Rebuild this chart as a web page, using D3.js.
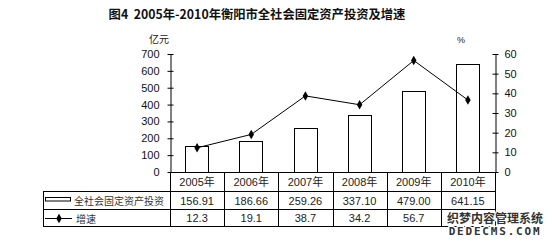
<!DOCTYPE html>
<html><head><meta charset="utf-8">
<script src="https://cdn.jsdelivr.net/npm/d3@7"></script>
<style>
body{margin:0;background:#fff;}
svg{display:block;font-family:"Liberation Sans",Arial,"Noto Sans CJK SC",sans-serif;}
</style></head><body>
<svg id="c" width="555" height="243"></svg>
<script>
const categories = ["2005年","2006年","2007年","2008年","2009年","2010年"];
const investment = [156.91,186.66,259.26,337.10,479.00,641.15];
const investmentLabels = ["156.91","186.66","259.26","337.10","479.00","641.15"];
const growth = [12.3,19.1,38.7,34.2,56.7,36.6];
// the 2010 growth cell is covered by the watermark in the reference
const growthLabels = ["12.3","19.1","38.7","34.2","56.7",""];
const leftTicks = [0,100,200,300,400,500,600,700];
const rightTicks = [0,10,20,30,40,50,60];
const seriesNames = ["全社会固定资产投资","增速"];
const title = "图4\u00a0\u00a02005年-2010年衡阳市全社会固定资产投资及增速";

const svg = d3.select("#c");
const L = 170, R = 495, T = 54, B = 172;
const x = d3.scaleBand().domain(categories).range([L, R]);
const yL = d3.scaleLinear().domain([0,700]).range([B, T]);
const yR = d3.scaleLinear().domain([0,60]).range([B, T]);

// title
svg.append("text").attr("x", 257).attr("y", 19).attr("text-anchor","middle")
  .attr("font-family","'Noto Sans CJK SC',sans-serif").attr("font-weight","bold")
  .attr("font-size", 12.3).attr("fill","#111").text(title);
svg.append("text").attr("x", 159).attr("y", 43).attr("text-anchor","middle")
  .attr("font-family","'Noto Sans CJK SC',sans-serif").attr("font-size", 10).attr("fill","#222").text("亿元");
svg.append("text").attr("x", 461).attr("y", 43).attr("text-anchor","middle")
  .attr("font-size", 9).attr("fill","#222").text("%");

// bars
svg.append("g").selectAll("rect").data(investment).join("rect")
  .attr("x", (d,i)=> Math.round(x(categories[i]) + x.bandwidth()*0.28)+0.5)
  .attr("width", Math.round(x.bandwidth()*0.42))
  .attr("y", d=> Math.round(yL(d))+0.5)
  .attr("height", d=> B - Math.round(yL(d)))
  .attr("fill","#fff").attr("stroke","#000").attr("stroke-width",1);

// axes
const axL = d3.axisLeft(yL).tickValues(leftTicks).tickSizeInner(3).tickSizeOuter(0).tickPadding(8);
const gL = svg.append("g").attr("transform",`translate(${L+0.5},0)`).call(axL);
gL.selectAll("line").attr("x2",-3).attr("x1",3);
const axR = d3.axisRight(yR).tickValues(rightTicks).tickSizeInner(3).tickSizeOuter(0).tickPadding(6);
const gR = svg.append("g").attr("transform",`translate(${R+0.5},0)`).call(axR);
gR.selectAll("line").attr("x1",-3).attr("x2",3);
[gL,gR].forEach(g=>{
  g.select(".domain").attr("stroke","#000");
  g.selectAll("line").attr("stroke","#000");
  g.selectAll("text").attr("font-size",11).attr("fill","#111")
   .attr("font-family","'Liberation Sans',Arial,sans-serif");
});

// line
const line = d3.line().x((d,i)=> x(categories[i]) + x.bandwidth()/2).y(d=> yR(d));
svg.append("path").datum(growth).attr("d", line).attr("fill","none").attr("stroke","#000").attr("stroke-width",1);
const diamond = d3.symbol().type(d3.symbolDiamond).size(26);
svg.append("g").selectAll("path").data(growth).join("path")
  .attr("transform",(d,i)=>`translate(${x(categories[i]) + x.bandwidth()/2},${yR(d)})`)
  .attr("d", diamond()).attr("fill","#000");

// table
const rows = [B, 191, 209, 226];
const tl = 43;
const tg = svg.append("g").attr("stroke","#000").attr("stroke-width",1).attr("shape-rendering","crispEdges");
tg.append("line").attr("x1",L).attr("x2",R).attr("y1",rows[0]).attr("y2",rows[0]);
[1,2,3].forEach(k=> tg.append("line").attr("x1",tl).attr("x2",R).attr("y1",rows[k]+0.5).attr("y2",rows[k]+0.5));
categories.forEach((c,i)=>{
  tg.append("line").attr("x1",x(c)+0.5).attr("x2",x(c)+0.5).attr("y1",rows[0]).attr("y2",rows[3]);
});
tg.append("line").attr("x1",R+0.5).attr("x2",R+0.5).attr("y1",rows[0]).attr("y2",rows[3]);
tg.append("line").attr("x1",tl+0.5).attr("x2",tl+0.5).attr("y1",rows[1]).attr("y2",rows[3]);

const cellText = (arr, yc, size, fam) => svg.append("g").selectAll("text").data(arr.filter(d=>d!==""))
  .join("text")
  .attr("x",(d,i)=> x(categories[i]) + x.bandwidth()/2).attr("y", yc)
  .attr("text-anchor","middle").attr("dominant-baseline","central")
  .attr("font-size", size).attr("fill","#222").attr("font-family", fam).text(d=>d);
cellText(categories, 182, 11, "'Liberation Sans','Noto Sans CJK SC',sans-serif");
cellText(investmentLabels, 200.5, 11, "'Liberation Sans',Arial,sans-serif");
cellText(growthLabels, 218, 11, "'Liberation Sans',Arial,sans-serif");

// legend
svg.append("rect").attr("x",45.5).attr("y",197.5).attr("width",25).attr("height",3.5)
  .attr("fill","#fff").attr("stroke","#000").attr("stroke-width",1);
svg.append("text").attr("x",74).attr("y",200.5).attr("dominant-baseline","central")
  .attr("font-family","'Noto Sans CJK SC',sans-serif").attr("font-size",10).attr("fill","#333").text(seriesNames[0]);
svg.append("line").attr("x1",45).attr("x2",72).attr("y1",218.5).attr("y2",218.5).attr("stroke","#000");
svg.append("path").attr("transform","translate(59,218.5)").attr("d", diamond()).attr("fill","#000");
svg.append("text").attr("x",76).attr("y",218).attr("dominant-baseline","central")
  .attr("font-family","'Noto Sans CJK SC',sans-serif").attr("font-size",10).attr("fill","#333").text(seriesNames[1]);

// watermark
svg.append("text").attr("x",495).attr("y",217.5).attr("text-anchor","middle").attr("dominant-baseline","central")
  .attr("font-family","'Noto Sans CJK SC',sans-serif").attr("font-weight","bold").attr("font-size",12)
  .attr("fill","#333").attr("stroke","#fff").attr("stroke-width",2.5).attr("paint-order","stroke").text("织梦内容管理系统");
svg.append("text").attr("x",495).attr("y",231.5).attr("text-anchor","middle").attr("dominant-baseline","central")
  .attr("font-family","'DejaVu Sans Mono',monospace").attr("font-weight","bold").attr("font-size",11)
  .attr("letter-spacing",1.8)
  .attr("fill","#333").attr("stroke","#fff").attr("stroke-width",2.5).attr("paint-order","stroke").text("DEDECMS.COM");
</script>
</body></html>
